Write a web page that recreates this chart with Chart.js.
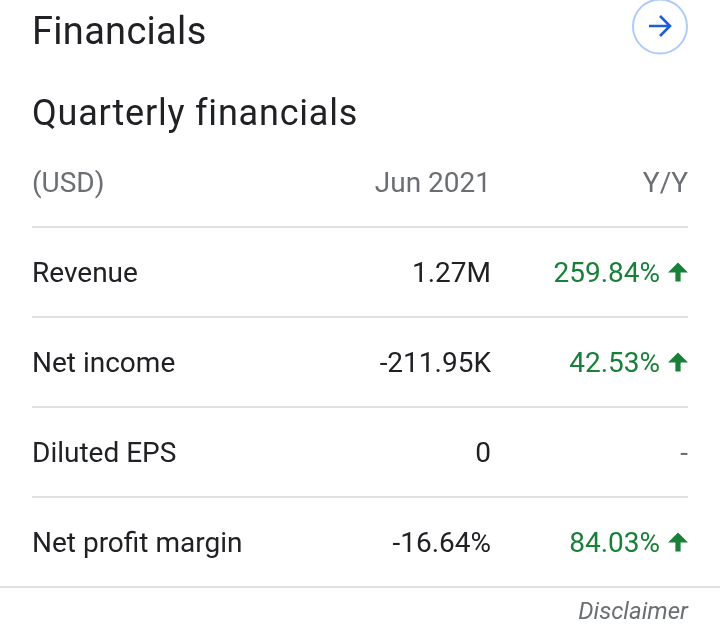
<!DOCTYPE html>
<html>
<head>
<meta charset="utf-8">
<style>html,body{margin:0;padding:0;background:#fff}canvas{display:block}</style>
<script src="https://cdn.jsdelivr.net/npm/chart.js@4"></script>
</head>
<body>
<canvas id="c" width="720" height="636"></canvas>
<script>
const pageTitle = "Financials";
const tableTitle = "Quarterly financials";
const footerText = "Disclaimer";
const rowLabels = ["(USD)", "Revenue", "Net income", "Diluted EPS", "Net profit margin"];
const periodColumn = ["Jun 2021", "1.27M", "-211.95K", "0", "-16.64%"];
const changeColumn = ["Y/Y", "259.84%", "42.53%", "-", "84.03%"];
const changeUp = [false, true, true, false, true];

const INK = "#202124", GREY = "#6b6f74", GREEN = "#188038", RULE = "#dfe1e5", BLUE = "#1a5fd6";
const FONT = "Roboto";
const TEXT_DROP = 3;

function text(ctx, s, x, y, font, color, align, spacing) {
  ctx.font = font; ctx.fillStyle = color; ctx.textAlign = align;
  ctx.textBaseline = "middle"; ctx.letterSpacing = (spacing || 0) + "px";
  ctx.fillText(s, x, y); ctx.letterSpacing = "0px";
}

const tablePlugin = {
  id: "tableText",
  afterLayout(chart) {
    const y = chart.scales.y;
    if (y._dropped) return;
    const orig = y.drawLabels.bind(y);
    y.drawLabels = area => {
      chart.ctx.save(); chart.ctx.translate(0, TEXT_DROP); orig(area); chart.ctx.restore();
    };
    y._dropped = true;
  },
  afterDraw(chart) {
    const { ctx, chartArea: a, scales: { y } } = chart;
    ctx.save();
    text(ctx, pageTitle, a.left, 34, "400 38px " + FONT, INK, "left", 0.3);
    text(ctx, tableTitle, a.left, 116, "400 36px " + FONT, INK, "left", 0.8);
    rowLabels.forEach((r, i) => {
      const py = y.getPixelForValue(i);
      const ty = py + TEXT_DROP;
      const head = i === 0;
      const color = head ? GREY : INK;
      text(ctx, periodColumn[i], a.right - 197, ty, "400 28px " + FONT, color, "right");
      if (head) {
        text(ctx, changeColumn[i], a.right, ty, "400 28px " + FONT, GREY, "right");
      } else if (changeUp[i]) {
        text(ctx, changeColumn[i], a.right - 28, ty, "400 28px " + FONT, GREEN, "right");
        const ax = a.right - 10, t = py - 9.5;
        ctx.fillStyle = GREEN;
        ctx.beginPath();
        ctx.moveTo(ax, t); ctx.lineTo(ax + 10, t + 10); ctx.lineTo(ax + 2.6, t + 10);
        ctx.lineTo(ax + 2.6, t + 19); ctx.lineTo(ax - 2.6, t + 19); ctx.lineTo(ax - 2.6, t + 10);
        ctx.lineTo(ax - 10, t + 10); ctx.closePath(); ctx.fill();
      } else {
        text(ctx, changeColumn[i], a.right, ty, "400 28px " + FONT, GREY, "right");
      }
    });
    // full-width rule under the table
    ctx.strokeStyle = RULE; ctx.lineWidth = 2;
    ctx.beginPath(); ctx.moveTo(0, a.bottom); ctx.lineTo(chart.width, a.bottom); ctx.stroke();
    text(ctx, footerText, a.right, 613, "italic 400 24px " + FONT, GREY, "right");
    // round arrow button
    ctx.strokeStyle = "#aecbfa"; ctx.lineWidth = 2;
    ctx.beginPath(); ctx.arc(660, 26.5, 27, 0, Math.PI * 2); ctx.stroke();
    ctx.strokeStyle = BLUE; ctx.lineWidth = 2.6;
    ctx.beginPath(); ctx.moveTo(649, 26); ctx.lineTo(670, 26);
    ctx.moveTo(660, 16); ctx.lineTo(670, 26); ctx.lineTo(660, 36); ctx.stroke();
    ctx.restore();
  }
};

new Chart(document.getElementById("c"), {
  type: "bar",
  data: { labels: rowLabels, datasets: [{ data: [], backgroundColor: "transparent" }] },
  options: {
    indexAxis: "y",
    responsive: false,
    animation: false,
    devicePixelRatio: 1,
    layout: { padding: { left: 32, right: 32, top: 137, bottom: 49 } },
    plugins: { legend: { display: false }, tooltip: { enabled: false }, title: { display: false } },
    scales: {
      x: { display: false },
      y: {
        type: "category",
        labels: rowLabels,
        offset: true,
        border: { display: false },
        grid: {
          offset: true,
          drawTicks: false,
          lineWidth: 2,
          color: c => (c.index === 0 || c.index === rowLabels.length) ? "transparent" : RULE
        },
        ticks: {
          mirror: true,
          padding: 0,
          autoSkip: false,
          font: { family: FONT, size: 28 },
          color: c => c.index === 0 ? GREY : INK
        }
      }
    }
  },
  plugins: [tablePlugin]
});
</script>
</body>
</html>
